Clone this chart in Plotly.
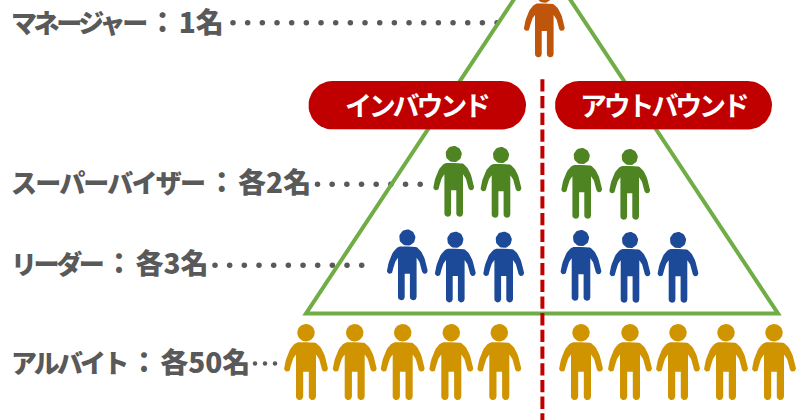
import math
import plotly.graph_objects as go

# Staffing per role, split into the two call-centre teams
ROLES = ["マネージャー", "スーパーバイザー", "リーダー", "アルバイト"]
STAFF_LABELS = ["1名", "各2名", "各3名", "各50名"]
TEAM_NAMES = ["インバウンド", "アウトバウンド"]

W, H = 796, 420
GRAY = "#595959"
RED = "#C00000"
GREEN_LINE = "#70AD47"
FONT = "Noto Sans CJK JP"


def arc(cx, cy, r, a0, a1, n=10):
    return [(cx + r * math.cos(math.radians(a0 + (a1 - a0) * i / n)),
             cy + r * math.sin(math.radians(a0 + (a1 - a0) * i / n))) for i in range(n + 1)]


def bez(p0, c, p1, n=14):
    pts = []
    for i in range(n + 1):
        t = i / n
        pts.append(((1 - t) ** 2 * p0[0] + 2 * t * (1 - t) * c[0] + t ** 2 * p1[0],
                    (1 - t) ** 2 * p0[1] + 2 * t * (1 - t) * c[1] + t ** 2 * p1[1]))
    return pts


# Right half of a figure, top of the shoulders down to the crotch
HALF_BODY = (
    [(0, 18.3), (8, 18.3)]
    + bez((8, 18.3), (17.5, 21), (21.8, 43.5))
    + arc(18.8, 44.5, 3.1, -15, 180)
    + bez((15.7, 44.5), (13.8, 34), (10, 30.5))
    + arc(6.4, 72.5, 3.6, 0, 180)
    + [(2.8, 47.7), (0, 47.7)]
)
BODY = HALF_BODY + [(-x, y) for x, y in reversed(HALF_BODY[:-1])]
HEAD = arc(0, 8.7, 8.7, 0, 360, 36)


def people(spots, scale):
    xs, ys = [], []
    for cx, top in spots:
        for part in (HEAD, BODY):
            xs += [cx + px * scale for px, _ in part] + [None]
            ys += [top + py * scale for _, py in part] + [None]
    return xs, ys


def triangle_band(corners, half_width):
    """Three mitred quads forming a triangle outline of constant width."""
    (ax, ay), (bx, by), (cx, cy) = corners
    a = math.dist(corners[1], corners[2])
    b = math.dist(corners[0], corners[2])
    c = math.dist(corners[0], corners[1])
    p = a + b + c
    ix, iy = (a * ax + b * bx + c * cx) / p, (a * ay + b * by + c * cy) / p
    rho = abs((bx - ax) * (cy - ay) - (cx - ax) * (by - ay)) / p
    outer = [(ix + (x - ix) * (rho + half_width) / rho, iy + (y - iy) * (rho + half_width) / rho)
             for x, y in corners]
    inner = [(ix + (x - ix) * (rho - half_width) / rho, iy + (y - iy) * (rho - half_width) / rho)
             for x, y in corners]
    xs, ys = [], []
    for i in range(3):
        j = (i + 1) % 3
        quad = [outer[i], outer[j], inner[j], inner[i], outer[i]]
        xs += [q[0] for q in quad] + [None]
        ys += [q[1] for q in quad] + [None]
    return xs, ys


# Figure placement per role: (head centre x, top y) and icon scale
role_spots = {
    "マネージャー": ([(544.3, -13.4)], 0.93, "#BE550A"),
    "スーパーバイザー": ([(453.7, 146), (501, 147), (581.7, 148), (629.7, 149)], 0.93, "#4E8522"),
    "リーダー": ([(407.3, 229.5), (455.3, 231.7), (503.7, 231.7),
               (581, 230), (630, 232), (678, 232)], 0.93, "#1C4A98"),
    "アルバイト": ([(306, 324), (354.7, 324), (402.7, 324), (451.3, 324), (499.3, 324),
               (581, 324), (630, 324), (678, 324), (726, 324), (774, 324)], 1.0, "#D09400"),
}

# Dotted leaders running from each label towards its row: start, step, count, y, dot size
leader_rows = [
    (233, 14.67, 19, 22.7, 5.5),
    (317.5, 14.67, 8, 184.3, 5.5),
    (215, 14.67, 11, 265.3, 5.5),
    (255, 10, 3, 363.5, 4.5),
]

fig = go.Figure()

lx, ly, ls = [], [], []
for start, step, count, y, size in leader_rows:
    lx += [start + step * i for i in range(count)]
    ly += [y] * count
    ls += [size] * count
fig.add_trace(go.Scatter(x=lx, y=ly, mode="markers",
                         marker=dict(color=GRAY, size=ls, opacity=1, line=dict(width=0)),
                         hoverinfo="skip"))

# Pyramid outline, its apex above the visible area
tx, ty = triangle_band([(306, 313.5), (542, -43), (778, 313.5)], 2)
fig.add_trace(go.Scatter(x=tx, y=ty, mode="lines", fill="toself", fillcolor=GREEN_LINE,
                         line=dict(width=0, color=GREEN_LINE), hoverinfo="skip"))

# Divider between the two teams
fig.add_trace(go.Scatter(x=[542.4, 542.4], y=[79.3, 420], mode="lines",
                         line=dict(color=RED, width=4, dash="12.3px,4.4px"), hoverinfo="skip"))

# Team name pills
pills = [(308.5, 526), (555, 772)]
pill_top, pill_bottom = 81, 129.5
r = (pill_bottom - pill_top) / 2
for (x0, x1), team in zip(pills, TEAM_NAMES):
    outline = (arc(x1 - r, pill_top + r, r, -90, 90, 24)
               + arc(x0 + r, pill_top + r, r, 90, 270, 24))
    fig.add_trace(go.Scatter(x=[p[0] for p in outline], y=[p[1] for p in outline],
                             mode="lines", fill="toself", fillcolor=RED,
                             line=dict(width=0, color=RED), hoverinfo="skip", name=team))
    fig.add_annotation(x=(x0 + x1) / 2, y=(pill_top + pill_bottom) / 2 - 0.5,
                       text=f'<span style="letter-spacing:-3.2px">{team}</span>', showarrow=False,
                       xanchor="center", yanchor="middle",
                       font=dict(family=FONT, size=27, color="white", weight=700))

for role in ROLES:
    spots, scale, color = role_spots[role]
    xs, ys = people(spots, scale)
    fig.add_trace(go.Scatter(x=xs, y=ys, mode="lines", fill="toself", fillcolor=color,
                             line=dict(width=0, color=color), hoverinfo="skip", name=role))

# Role labels at the left edge, the katakana run tightened to its own tracking
label_y = [21, 181, 262, 361]
kana_tracking = [-3.4, -1.8, -3.4, -2.9]
for role, staff, y, tr in zip(ROLES, STAFF_LABELS, label_y, kana_tracking):
    fig.add_annotation(x=9, y=y, showarrow=False, xanchor="left", yanchor="middle",
                       text=(f'<span style="font-size:26px;letter-spacing:{tr}px">{role}</span>'
                             f'<span style="font-size:16px">\u00a0</span>：'
                             f'<span style="font-size:10px">\u00a0</span>{staff}'),
                       font=dict(family=FONT, size=28, color=GRAY, weight=900))

fig.update_layout(
    width=W, height=H, autosize=False, showlegend=False,
    margin=dict(l=0, r=0, t=0, b=0),
    paper_bgcolor="white", plot_bgcolor="white",
    xaxis=dict(range=[0, W], visible=False, fixedrange=True),
    yaxis=dict(range=[H, 0], visible=False, fixedrange=True),
)
fig.write_html("out.html", config={"displayModeBar": False})
